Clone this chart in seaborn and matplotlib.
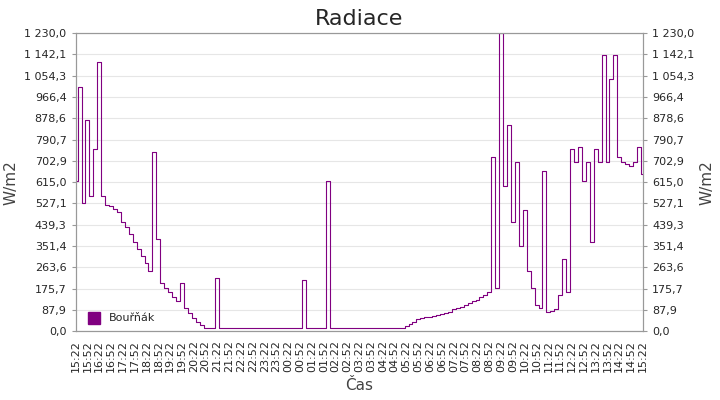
import matplotlib
matplotlib.use("Agg")
import matplotlib.pyplot as plt
import numpy as np
import pandas as pd
import seaborn as sns

# radiation in W/m2, one value every 10 minutes from 15:22 to 15:22 next day
radiation = [
    620, 1010, 530, 870, 560, 750, 1110, 560, 520, 515, 505,
    490, 450, 430, 400, 370, 340, 310, 280, 250, 740,
    380, 200, 180, 160, 140, 125, 200, 95, 75, 55, 40, 25, 12,
    12, 12, 220, 12, 12, 12, 12, 12, 12, 12, 12, 12, 12, 12, 12, 12,
    12, 12, 12, 12, 12, 12, 12, 12, 210, 12, 12, 12, 12, 12, 620,
    12, 12, 12, 12, 12, 12, 12, 12, 12, 12, 12, 12, 12, 12, 12, 12, 12, 12,
    15, 20, 30, 40, 50, 55, 60, 58, 62, 65, 70, 75, 80, 90, 95, 100,
    110, 115, 125, 130, 140, 150, 160, 720, 180, 1230, 600, 850, 450,
    700, 350, 500, 250, 180, 110, 95, 660, 80, 85, 90, 150, 300, 160,
    750, 700, 760, 620, 700, 370, 750, 700, 1140, 700, 1040, 1140, 720,
    700, 690, 680, 700, 760, 650,
]
tick_labels = [f"{(15 * 60 + 22 + 30 * i) // 60 % 24:02d}:{(22 + 30 * i) % 60:02d}" for i in range(49)]

df = pd.DataFrame({"minutes": np.arange(len(radiation)) * 10, "value": radiation})

sns.set_style("white")
plt.rcParams["font.family"] = ["DejaVu Sans"]

fig, ax = plt.subplots(figsize=(7.2, 4.0), dpi=100)
sns.lineplot(data=df, x="minutes", y="value", color="#800080", linewidth=0.8,
             drawstyle="steps-mid", ax=ax)

ymax = 1230
yt = np.linspace(0, ymax, 15)
fmt = [f"{v:,.1f}".replace(",", " ").replace(".", ",") for v in yt]
ax.set_ylim(0, ymax)
ax.set_xlim(0, 1440)
ax.set_yticks(yt)
ax.set_yticklabels(fmt, fontsize=8)
ax.set_xticks(np.arange(49) * 30)
ax.set_xticklabels(tick_labels, rotation=90, fontsize=8)
ax.yaxis.grid(True, color="#e6e6e6", linewidth=0.8)
ax.set_xlabel("Čas", fontsize=11, color="#444444")
ax.set_ylabel("W/m2", fontsize=11, color="#444444")
ax.set_title("Radiace", fontsize=16)
for s in ax.spines.values():
    s.set_color("#999999")
ax.tick_params(length=3, color="#999999")

ax2 = ax.twinx()
ax2.set_ylim(0, ymax)
ax2.set_yticks(yt)
ax2.set_yticklabels(fmt, fontsize=8)
ax2.set_ylabel("W/m2", fontsize=11, color="#444444")
ax2.tick_params(length=3, color="#999999")
for s in ax2.spines.values():
    s.set_color("#999999")

ax.plot([], [], "s", color="#800080", markersize=8, label="Bouřňák")
ax.legend(loc="lower left", frameon=False, fontsize=8, handletextpad=0.3, borderaxespad=0.3)

fig.subplots_adjust(left=0.105, right=0.893, top=0.917, bottom=0.172)
fig.savefig("out.png", dpi=100)
